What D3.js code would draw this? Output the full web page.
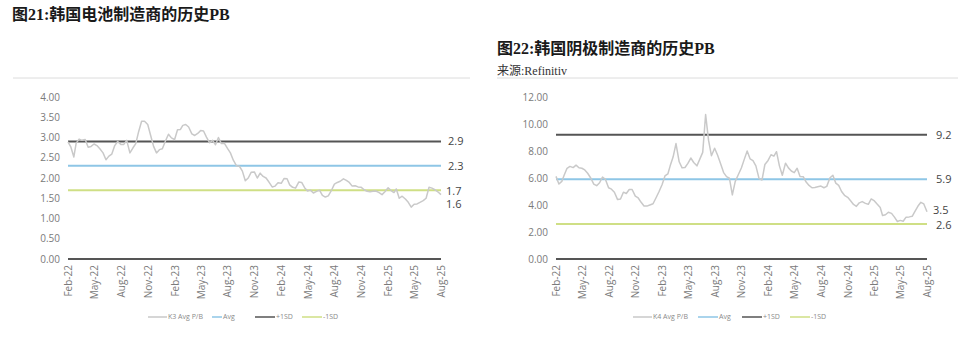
<!DOCTYPE html>
<html>
<head>
<meta charset="utf-8">
<script src="https://cdn.jsdelivr.net/npm/d3@7"></script>
<style>
  html, body { margin: 0; padding: 0; background: #ffffff; }
  svg { display: block; }
</style>
</head>
<body>
<svg id="chart" width="960" height="340"></svg>
<script>
// Korean battery makers (K3) – average P/B, sampled three times a month, Feb-2022 .. Aug-2025
const k3Values = [
  2.89,2.76,2.52,2.86,2.96,2.93,2.95,2.76,2.78,2.84,
  2.80,2.72,2.62,2.45,2.54,2.59,2.80,2.90,2.83,2.83,
  2.93,2.62,2.74,2.85,3.15,3.40,3.40,3.32,3.05,2.78,
  2.62,2.70,2.72,2.92,3.08,2.99,2.95,3.19,3.20,3.30,
  3.32,3.26,3.09,3.05,3.10,3.17,3.16,3.01,2.87,2.93,
  2.82,3.00,2.85,2.86,2.73,2.62,2.44,2.30,2.29,2.17,
  1.93,2.00,2.14,2.15,2.00,2.12,2.04,2.00,1.90,1.78,
  1.80,1.88,1.87,1.99,1.98,1.83,1.77,1.75,1.90,1.89,
  1.76,1.68,1.70,1.63,1.67,1.70,1.57,1.53,1.56,1.68,
  1.85,1.89,1.92,1.98,1.94,1.89,1.80,1.81,1.78,1.77,
  1.71,1.67,1.66,1.67,1.68,1.64,1.59,1.66,1.76,1.69,
  1.64,1.73,1.50,1.55,1.48,1.40,1.28,1.35,1.36,1.40,
  1.44,1.50,1.77,1.75,1.71,1.66,1.59
];
// Korean cathode makers (K4) – average P/B, same sampling
const k4Values = [
  6.12,5.55,5.75,6.20,6.72,6.86,6.77,6.95,6.76,6.72,
  6.60,6.35,5.98,5.55,5.43,5.65,6.07,5.90,5.28,5.17,
  4.95,4.40,4.45,4.95,4.85,5.15,5.15,4.66,4.52,4.20,
  3.92,3.92,4.00,4.09,4.52,4.96,5.50,6.15,6.30,6.90,
  7.55,8.55,7.20,6.75,6.78,7.08,7.48,7.15,6.90,7.40,
  7.90,10.70,8.80,7.65,8.20,7.70,7.10,6.40,6.10,5.98,
  4.75,5.75,6.22,6.74,7.38,8.00,7.42,7.28,6.90,5.95,
  5.85,7.00,7.30,7.72,7.62,7.95,6.90,6.20,7.10,6.75,
  6.52,6.40,6.72,6.12,6.10,5.70,5.45,5.28,5.30,5.35,
  5.40,5.28,5.38,6.02,6.20,5.62,5.45,5.00,4.72,4.57,
  4.32,4.04,3.90,4.16,4.25,4.12,4.05,4.45,4.30,4.05,
  3.82,3.22,3.28,3.46,3.38,3.10,2.78,2.86,2.80,3.10,
  3.12,3.16,3.55,3.92,4.20,4.08,3.50
];

// Band statistics (mean, +1 SD, -1 SD) and the latest reading
const k3Bands = [2.3, 2.9, 1.7];
const k4Bands = [5.9, 9.2, 2.6];
const k3Last = 1.6;
const k4Last = 3.5;

// Axis ticks
const k3YTicks = [0, 0.5, 1, 1.5, 2, 2.5, 3, 3.5, 4];
const k4YTicks = [0, 2, 4, 6, 8, 10, 12];
const xTickLabels = ["Feb-22","May-22","Aug-22","Nov-22","Feb-23","May-23","Aug-23",
                     "Nov-23","Feb-24","May-24","Aug-24","Nov-24","Feb-25","May-25","Aug-25"];

// Legend entries
const k3Legend = ["K3 Avg P/B", "Avg", "+1SD", "-1SD"];
const k4Legend = ["K4 Avg P/B", "Avg", "+1SD", "-1SD"];

// Titles
const titles = ["图21:韩国电池制造商的历史PB", "图22:韩国阴极制造商的历史PB"];
const sourceNote = "来源:Refinitiv";

// Sample dates: the 1st, 11th and 21st of each month
function sampleDates(n) {
  const out = [];
  for (let k = 0; k < n; k++) {
    out.push(new Date(2022, 1 + Math.floor(k / 3), 1 + 10 * (k % 3)));
  }
  return out;
}
const parseTick = d3.timeParse("%b-%y");

const svg = d3.select("#chart");
const COLORS = { series: "#c9c9c9", avg: "#8ec6e6", plus: "#555555", minus: "#cfdf85", axis: "#555555" };
const sansFont = "'Open Sans', 'Noto Sans', sans-serif";

function drawPanel(opt) {
  const g = svg.append("g");
  const dates = sampleDates(opt.values.length);
  const x = d3.scaleTime()
    .domain([parseTick(xTickLabels[0]), parseTick(xTickLabels[xTickLabels.length - 1])])
    .range([opt.x0, opt.x1]);
  const y = d3.scaleLinear().domain(opt.yDomain).range([259, 97]);

  // y axis labels
  const yAxis = d3.axisLeft(y).tickValues(opt.yTicks).tickFormat(d3.format(".2f")).tickSize(0).tickPadding(8);
  const ya = g.append("g").attr("transform", `translate(${opt.x0},0)`).call(yAxis);
  ya.select(".domain").remove();
  ya.selectAll("text").attr("fill", "#7a7a7a").style("font-family", sansFont).style("font-size", "10px");

  // x axis labels (rotated)
  const xAxis = d3.axisBottom(x).tickValues(xTickLabels.map(parseTick))
    .tickFormat(d3.timeFormat("%b-%y")).tickSize(0);
  const xa = g.append("g").attr("transform", "translate(0,265)").call(xAxis);
  xa.select(".domain").remove();
  xa.selectAll("text")
    .attr("fill", "#7a7a7a")
    .style("font-family", sansFont).style("font-size", "10px")
    .attr("text-anchor", "end")
    .attr("transform", "rotate(-90)")
    .attr("x", 0).attr("y", 0).attr("dx", 0).attr("dy", "0.35em");

  // band lines
  const bands = [
    { v: opt.bands[1], c: COLORS.plus },
    { v: opt.bands[0], c: COLORS.avg },
    { v: opt.bands[2], c: COLORS.minus }
  ];
  g.selectAll(".band").data(bands).enter().append("line")
    .attr("x1", opt.x0).attr("x2", opt.x1)
    .attr("y1", d => y(d.v)).attr("y2", d => y(d.v))
    .attr("stroke", d => d.c).attr("stroke-width", 2);

  // zero baseline
  g.append("line").attr("x1", opt.x0).attr("x2", opt.x1)
    .attr("y1", y(0)).attr("y2", y(0))
    .attr("stroke", COLORS.axis).attr("stroke-width", 2);

  // P/B series
  const line = d3.line().x((d, i) => x(dates[i])).y(d => y(d)).curve(d3.curveLinear);
  g.append("path").datum(opt.values).attr("d", line)
    .attr("fill", "none").attr("stroke", COLORS.series).attr("stroke-width", 1.5)
    .attr("stroke-linejoin", "round");

  // value labels at right
  const lab = g.append("g").style("font-family", sansFont).style("font-size", "11px").attr("fill", "#444");
  opt.labels.forEach(l => {
    lab.append("text").attr("x", opt.x1 + l.dx).attr("y", y(l.v) + l.dy).attr("dy", "0.35em").text(d3.format(".1f")(l.v));
  });

  // legend
  const lg = g.append("g").style("font-family", sansFont).style("font-size", "7px").attr("fill", "#8a8a8a");
  const lcol = [COLORS.series, COLORS.avg, COLORS.plus, COLORS.minus];
  opt.legend.forEach((name, i) => {
    const p = opt.legendPos[i];
    lg.append("line").attr("x1", p[0]).attr("x2", p[1]).attr("y1", 317).attr("y2", 317)
      .attr("stroke", lcol[i]).attr("stroke-width", 1.5);
    lg.append("text").attr("x", p[1] + 1).attr("y", 317).attr("dy", "0.35em").text(name);
  });
}

// Titles and rules
const titleFont = "'Liberation Serif', 'Noto Sans CJK SC', serif";
svg.append("text").attr("x", 12).attr("y", 20).text(titles[0])
  .style("font-family", titleFont).style("font-size", "16px").style("font-weight", "700").attr("fill", "#1a1a1a");
svg.append("text").attr("x", 497).attr("y", 54).text(titles[1])
  .style("font-family", titleFont).style("font-size", "16px").style("font-weight", "700").attr("fill", "#1a1a1a");
svg.append("text").attr("x", 497).attr("y", 75).text(sourceNote)
  .style("font-family", titleFont).style("font-size", "12px").attr("fill", "#333");
svg.append("line").attr("x1", 13).attr("x2", 470).attr("y1", 78).attr("y2", 78).attr("stroke", "#dcdcdc").attr("stroke-width", 1);
svg.append("line").attr("x1", 497).attr("x2", 958).attr("y1", 78).attr("y2", 78).attr("stroke", "#dcdcdc").attr("stroke-width", 1);

drawPanel({
  values: k3Values, bands: k3Bands, yDomain: [0, 4], yTicks: k3YTicks,
  x0: 68, x1: 441,
  labels: [
    { v: k3Bands[1], dx: 7, dy: 0 },
    { v: k3Bands[0], dx: 7, dy: 0 },
    { v: k3Bands[2], dx: 5, dy: 0.5 },
    { v: k3Last, dx: 5, dy: 9.5 }
  ],
  legend: k3Legend,
  legendPos: [[148, 167], [212, 222], [255, 275], [302, 322]]
});

drawPanel({
  values: k4Values, bands: k4Bands, yDomain: [0, 12], yTicks: k4YTicks,
  x0: 556, x1: 927,
  labels: [
    { v: k4Bands[1], dx: 9, dy: 0 },
    { v: k4Bands[0], dx: 9, dy: 0 },
    { v: k4Last, dx: 6, dy: -2 },
    { v: k4Bands[2], dx: 9, dy: 1 }
  ],
  legend: k4Legend,
  legendPos: [[633, 652], [698, 718], [742, 762], [790, 810]]
});
</script>
</body>
</html>
